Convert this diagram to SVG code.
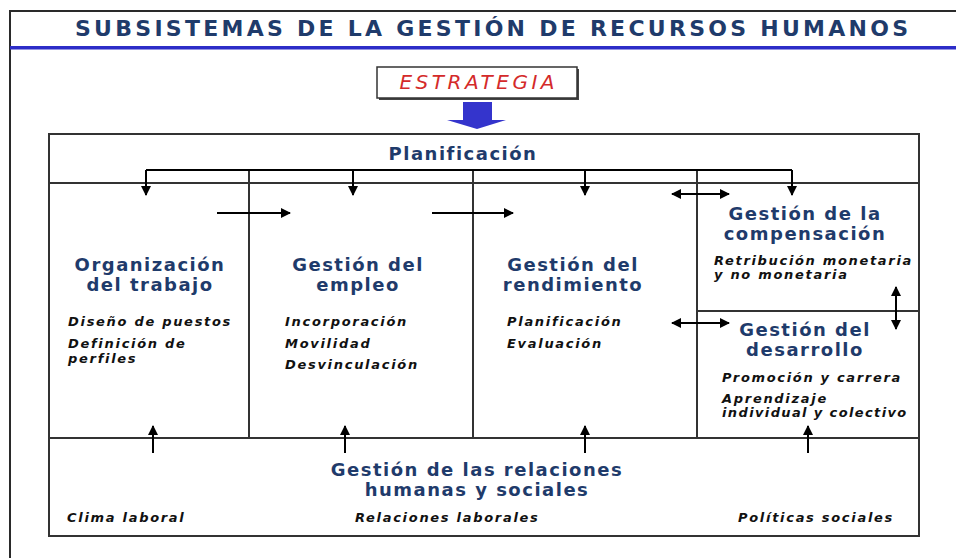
<svg xmlns="http://www.w3.org/2000/svg" width="956" height="558" viewBox="0 0 956 558">
<defs>
<marker id="ah" viewBox="0 0 10 10" refX="9" refY="5" markerWidth="10" markerHeight="10" markerUnits="userSpaceOnUse" orient="auto-start-reverse">
<path d="M0,0 L10,5 L0,10 z" fill="#000"/>
</marker>
<style>
.frame{fill:none;stroke:#2a2a2a;stroke-width:2}
.grid{fill:none;stroke:#333;stroke-width:2}
.con{fill:none;stroke:#000;stroke-width:2}
.arr{fill:none;stroke:#000;stroke-width:2;marker-end:url(#ah)}
.darr{fill:none;stroke:#000;stroke-width:2;marker-end:url(#ah);marker-start:url(#ah)}
.h{font-family:"DejaVu Sans",Verdana,sans-serif;font-weight:bold;font-size:18px;letter-spacing:1.5px;fill:#1f3b6b;text-anchor:middle}
.it{font-family:"DejaVu Sans",Verdana,sans-serif;font-weight:bold;font-style:italic;font-size:13px;letter-spacing:1.7px;fill:#111}
.title{font-family:"DejaVu Sans",Verdana,sans-serif;font-weight:bold;font-size:22px;fill:#1f3b6b}
</style>
</defs>
<rect width="956" height="558" fill="#fff"/>
<path class="frame" d="M10,558 L10,11 L956,11"/>
<text class="title" x="75" y="36" textLength="833" lengthAdjust="spacing">SUBSISTEMAS DE LA GESTIÓN DE RECURSOS HUMANOS</text>
<rect x="10" y="46" width="946" height="3.5" fill="#2d2dc8"/>

<g id="estrategia">
<rect x="379" y="69" width="200" height="31" fill="#444"/>
<rect x="377" y="67" width="200" height="31" fill="#fff" stroke="#333" stroke-width="1.5"/>
<text x="477" y="89" text-anchor="middle" font-family="'DejaVu Sans',sans-serif" font-style="italic" font-size="20" fill="#d42a2a" textLength="155" lengthAdjust="spacing">ESTRATEGIA</text>
</g>
<g id="blue-arrow">
<polygon points="463,102 492,102 492,120 506,120 477,129 447,120 463,120" fill="#3434cc"/>
</g>

<g id="grid">
<rect class="grid" x="49" y="134" width="870" height="402"/>
<line class="grid" x1="49" y1="183" x2="919" y2="183"/>
<line class="grid" x1="49" y1="438" x2="919" y2="438"/>
<line class="grid" x1="249" y1="170" x2="249" y2="438"/>
<line class="grid" x1="473" y1="170" x2="473" y2="438"/>
<line class="grid" x1="697" y1="170" x2="697" y2="438"/>
<line class="grid" x1="697" y1="311" x2="919" y2="311"/>
</g>

<g id="planificacion">
<text class="h" x="463" y="160">Planificación</text>
</g>

<g id="organizacion">
<text class="h" x="150" y="271">Organización</text>
<text class="h" x="150" y="291">del trabajo</text>
<text class="it" x="68" y="326">Diseño de puestos</text>
<text class="it" x="68" y="348">Definición de</text>
<text class="it" x="68" y="363">perfiles</text>
</g>

<g id="empleo">
<text class="h" x="358" y="271">Gestión del</text>
<text class="h" x="358" y="291">empleo</text>
<text class="it" x="285" y="326">Incorporación</text>
<text class="it" x="285" y="348">Movilidad</text>
<text class="it" x="285" y="369">Desvinculación</text>
</g>

<g id="rendimiento">
<text class="h" x="573" y="271">Gestión del</text>
<text class="h" x="573" y="291">rendimiento</text>
<text class="it" x="507" y="326">Planificación</text>
<text class="it" x="507" y="348">Evaluación</text>
</g>

<g id="compensacion">
<text class="h" x="805" y="220">Gestión de la</text>
<text class="h" x="805" y="240">compensación</text>
<text class="it" x="714" y="265" font-size="11" textLength="199" lengthAdjust="spacing">Retribución monetaria</text>
<text class="it" x="714" y="279" font-size="11" letter-spacing="1.8">y no monetaria</text>
</g>

<g id="desarrollo">
<text class="h" x="805" y="336">Gestión del</text>
<text class="h" x="805" y="356">desarrollo</text>
<text class="it" x="722" y="382" font-size="12.5" textLength="180" lengthAdjust="spacing">Promoción y carrera</text>
<text class="it" x="722" y="403" font-size="12">Aprendizaje</text>
<text class="it" x="722" y="417" font-size="12" textLength="186" lengthAdjust="spacing">individual y colectivo</text>
</g>

<g id="relaciones">
<text class="h" x="477" y="476">Gestión de las relaciones</text>
<text class="h" x="477" y="496">humanas y sociales</text>
<text class="it" x="67" y="522">Clima laboral</text>
<text class="it" x="355" y="522">Relaciones laborales</text>
<text class="it" x="738" y="522">Políticas sociales</text>
</g>

<g id="connectors">
<path class="con" d="M146,170 L792,170"/>
<path class="arr" d="M146,170 L146,195"/>
<path class="arr" d="M353,170 L353,195"/>
<path class="arr" d="M585,170 L585,195"/>
<path class="arr" d="M792,170 L792,195"/>
<path class="arr" d="M217,213 L290,213"/>
<path class="arr" d="M432,213 L513,213"/>
<path class="darr" d="M672,194 L729,194"/>
<path class="darr" d="M672,323 L729,323"/>
<path class="darr" d="M896,287 L896,329"/>
<path class="arr" d="M153,453 L153,426"/>
<path class="arr" d="M345,453 L345,426"/>
<path class="arr" d="M585,453 L585,426"/>
<path class="arr" d="M808,453 L808,426"/>
</g>
</svg>
